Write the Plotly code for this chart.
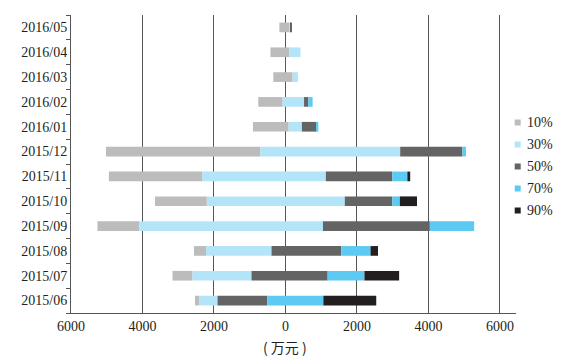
import numpy as np
import plotly.graph_objects as go

# ---------------- data (万元) ----------------
months = ["2015/06", "2015/07", "2015/08", "2015/09", "2015/10", "2015/11",
          "2015/12", "2016/01", "2016/02", "2016/03", "2016/04", "2016/05"]
series_names = ["10%", "30%", "50%", "70%", "90%"]
p10 = [110, 560, 340, 1170, 1450, 2610, 4320, 1000, 680, 540, 530, 280]
p30 = [520, 1650, 1830, 5140, 3860, 3460, 3910, 370, 600, 150, 310, 20]
p50 = [1390, 2130, 1950, 2990, 1330, 1860, 1740, 420, 120, 0, 0, 50]
p70 = [1570, 1030, 820, 1240, 210, 420, 100, 40, 120, 0, 0, 0]
p90 = [1480, 970, 210, 0, 480, 80, 0, 0, 0, 0, 0, 0]
# portion of each bar lying left of zero
neg_part = [2530, 3160, 2560, 5260, 3650, 4940, 5020, 910, 760, 340, 420, 170]
x_tickvals = [-6000, -4000, -2000, 0, 2000, 4000, 6000]
x_ticktext = ["6000", "4000", "2000", "0", "2000", "4000", "6000"]
unit_label = "( 万元 )"

colors = ["#bdbcbd", "#b3e4f7", "#646464", "#5ccaf2", "#231f20"]
values = [p10, p30, p50, p70, p90]

# the page body adds an 8px offset; size the figure so it fits the window
OFF = 8
W, H = 568 - OFF, 364 - OFF
PL, PR, PT, PB = 71, 516, 15, 313          # plot box in window pixels
ML, MT = PL - OFF, PT - OFF
MR, MB = W - (PR - OFF), H - (PB - OFF)
PW, PH = PR - PL, PB - PT

def px_x(px):
    return (px - PL) / PW

def px_y(py):
    return (PB - py) / PH

fig = go.Figure()
base = -np.array(neg_part, dtype=float)
for name, vals, col in zip(series_names, values, colors):
    v = np.array(vals, dtype=float)
    fig.add_trace(go.Bar(
        y=months, x=v, base=base, orientation="h", name=name,
        marker=dict(color=col, line=dict(width=0)),
        width=0.39, showlegend=False,
    ))
    base = base + v

serif = "Liberation Serif"
fig.update_layout(
    width=W, height=H,
    margin=dict(l=ML, r=MR, t=MT, b=MB, autoexpand=False),
    barmode="overlay",
    plot_bgcolor="white", paper_bgcolor="white",
    font=dict(family=serif, size=14, color="#231f20"),
    xaxis=dict(
        range=[-6000, 6450], tickvals=x_tickvals, ticktext=x_ticktext,
        showgrid=True, gridcolor="#555555", gridwidth=1,
        zeroline=True, zerolinecolor="#555555", zerolinewidth=1,
        showline=True, linecolor="#555555", linewidth=1,
        ticks="", tickfont=dict(family=serif, size=14, color="#231f20"),
        automargin=False, fixedrange=True,
    ),
    yaxis=dict(
        type="category", categoryorder="array", categoryarray=months,
        range=[-0.5, 11.5], tickson="boundaries",
        ticks="outside", ticklen=4, tickcolor="#555555",
        showline=True, linecolor="#555555", linewidth=1,
        showgrid=False, tickfont=dict(family=serif, size=14, color="#231f20"),
        automargin=False, fixedrange=True,
    ),
)

# unit label under the x axis
fig.add_annotation(
    x=0, xref="x", y=px_y(347), yref="paper", text=unit_label,
    showarrow=False, xanchor="center", yanchor="middle",
    font=dict(family="Noto Sans CJK SC", size=14, color="#231f20"),
)

# legend (small squares + labels) on the right
leg_y = [122.5, 144.5, 166.5, 188.5, 210.5]
for name, col, py in zip(series_names, colors, leg_y):
    fig.add_shape(
        type="rect", xref="paper", yref="paper",
        x0=px_x(514.7), x1=px_x(520.7), y0=px_y(py + 3), y1=px_y(py - 3),
        fillcolor=col, line=dict(width=0),
    )
    fig.add_annotation(
        x=px_x(525), xref="paper", y=px_y(py), yref="paper", text=name,
        showarrow=False, xanchor="left", yanchor="middle",
        font=dict(family=serif, size=14, color="#231f20"),
    )

fig.write_html("out.html")
